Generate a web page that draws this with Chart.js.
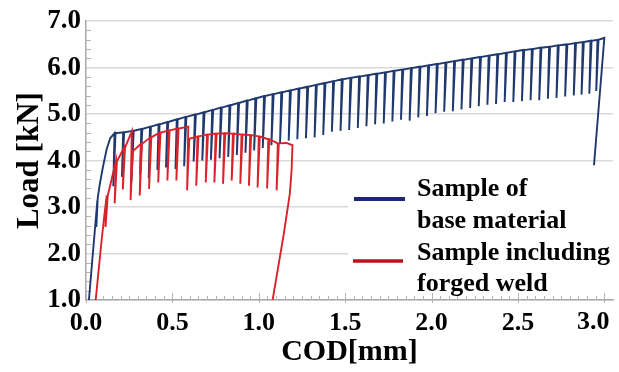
<!DOCTYPE html>
<html>
<head>
<meta charset="utf-8">
<title>Load vs COD</title>
<script src="https://cdn.jsdelivr.net/npm/chart.js@4.4.1/dist/chart.umd.min.js"></script>
<style>
  html, body { margin: 0; padding: 0; background: #fff; }
  #box { width: 619px; height: 372px; }
</style>
</head>
<body>
<div id="box"><canvas id="codChart" width="619" height="372"></canvas></div>
<script>
// ---- values (COD in mm, load in kN) ----
const xTickValues = [0, 0.5, 1.0, 1.5, 2.0, 2.5, 3.0];
const yTickValues = [1, 2, 3, 4, 5, 6, 7];

const baseLegend = ['Sample of', 'base material'];
const weldLegend = ['Sample including', 'forged weld'];

// sample of base material: first loading leg, unloading cycles, final unload
const baseStartX = [0.017, 0.035, 0.05, 0.066, 0.06, 0.068, 0.08, 0.10, 0.12, 0.14];
const baseStartY = [1.0, 1.8, 2.45, 3.15, 2.57, 3.2, 3.5, 3.9, 4.25, 4.48];
const basePeakX = [0.165, 0.215, 0.27, 0.32, 0.37, 0.42, 0.47, 0.525, 0.575, 0.63,
                   0.68, 0.73, 0.78, 0.83, 0.88, 0.93, 0.98, 1.03, 1.08, 1.13,
                   1.18, 1.23, 1.28, 1.33, 1.38, 1.43, 1.48, 1.53, 1.58, 1.63,
                   1.68, 1.73, 1.78, 1.83, 1.88, 1.93, 1.98, 2.03, 2.08, 2.13,
                   2.18, 2.23, 2.28, 2.33, 2.38, 2.43, 2.48, 2.53, 2.58, 2.63,
                   2.68, 2.73, 2.78, 2.83, 2.875, 2.92, 2.96];
const basePeakY = [4.59, 4.61, 4.64, 4.68, 4.73, 4.78, 4.83, 4.89, 4.94, 4.99,
                   5.04, 5.09, 5.14, 5.19, 5.24, 5.29, 5.34, 5.39, 5.43, 5.47,
                   5.51, 5.55, 5.59, 5.63, 5.67, 5.71, 5.75, 5.78, 5.81, 5.84,
                   5.87, 5.90, 5.93, 5.96, 5.99, 6.02, 6.05, 6.08, 6.11, 6.14,
                   6.17, 6.20, 6.23, 6.26, 6.29, 6.32, 6.35, 6.38, 6.40, 6.43,
                   6.45, 6.48, 6.50, 6.53, 6.55, 6.58, 6.60];
const baseLowY = [3.45, 3.65, 3.55, 3.70, 3.62, 3.80, 3.85, 3.82, 3.88, 3.98,
                  4.00, 4.02, 4.05, 4.08, 4.12, 4.17, 4.22, 4.27, 4.33, 4.38,
                  4.43, 4.46, 4.48, 4.50, 4.55, 4.62, 4.64, 4.66, 4.70, 4.74,
                  4.78, 4.80, 4.84, 4.88, 4.86, 4.93, 4.96, 5.02, 5.05, 5.06,
                  5.10, 5.13, 5.17, 5.20, 5.22, 5.26, 5.26, 5.28, 5.30, 5.30,
                  5.33, 5.35, 5.38, 5.40, 5.42, 5.44, 5.50];
const baseEndX = [3.0, 2.94];
const baseEndY = [6.64, 3.9];

// sample including forged weld
const weldStartX = [0.056, 0.072, 0.088, 0.104];
const weldStartY = [1.0, 1.6, 2.2, 2.75];
const weldPeakX = [0.12, 0.173, 0.22, 0.265, 0.318, 0.372, 0.425, 0.478, 0.53, 0.592,
                   0.645, 0.70, 0.75, 0.80, 0.85, 0.90, 0.95, 1.0, 1.055, 1.11];
const weldPeakY = [3.25, 3.98, 4.28, 4.63, 4.36, 4.50, 4.60, 4.65, 4.69, 4.73,
                   4.52, 4.56, 4.58, 4.59, 4.58, 4.56, 4.55, 4.52, 4.46, 4.37];
const weldLowY = [2.57, 3.08, 3.38, 3.15, 3.25, 3.39, 3.53, 3.57, 3.57, 3.36,
                  3.46, 3.53, 3.53, 3.50, 3.57, 3.50, 3.46, 3.42, 3.40, 3.36];
const weldBackY = [3.25, 3.98, 4.28, 4.20, 4.36, 4.50, 4.60, 4.65, 4.69, 4.47,
                   4.52, 4.56, 4.58, 4.59, 4.58, 4.56, 4.55, 4.52, 4.46, 4.37];
const weldEndX = [1.16, 1.195, 1.19, 1.18, 1.145, 1.08];
const weldEndY = [4.38, 4.33, 3.8, 3.3, 2.43, 1.0];

// turns the read values into one path: loading leg, then peak -> unload -> reload per cycle
function buildCurve(startX, startY, peakX, peakY, lowY, backY, endX, endY) {
    const pts = startX.map((x, i) => ({ x: x, y: startY[i] }));
    peakX.forEach((x, i) => {
        pts.push({ x: x, y: peakY[i] });
        pts.push({ x: x - 0.007, y: lowY[i] });
        pts.push({ x: x + 0.006, y: backY[i] });
    });
    endX.forEach((x, i) => pts.push({ x: x, y: endY[i] }));
    return pts;
}

const basePoints = buildCurve(baseStartX, baseStartY, basePeakX, basePeakY, baseLowY, basePeakY, baseEndX, baseEndY);
const weldPoints = buildCurve(weldStartX, weldStartY, weldPeakX, weldPeakY, weldLowY, weldBackY, weldEndX, weldEndY);

const serif = '"Liberation Serif", "Times New Roman", serif';
const lastX = xTickValues[xTickValues.length - 1];

// small inside ticks along both axes
const minorTicks = {
    id: 'minorTicks',
    beforeDatasetsDraw(chart) {
        const { ctx, chartArea, scales } = chart;
        ctx.save();
        ctx.strokeStyle = '#b4b4b4';
        ctx.lineWidth = 1;
        ctx.beginPath();
        for (let i = 0; i <= 60; i++) {
            const px = Math.round(scales.x.getPixelForValue(i * 0.05)) + 0.5;
            const len = i % 10 === 0 ? 7 : 4;
            ctx.moveTo(px, chartArea.bottom + (i % 10 === 0 ? 3 : 0));
            ctx.lineTo(px, chartArea.bottom - len);
        }
        for (let j = 1; j < 30; j++) {
            if (j % 5 === 0) continue;
            const py = Math.round(scales.y.getPixelForValue(1 + j * 0.2)) + 0.5;
            ctx.moveTo(chartArea.left, py);
            ctx.lineTo(chartArea.left + 5, py);
        }
        ctx.stroke();
        ctx.restore();
    }
};

// legend inside the plot (lower right) and the last x label, pulled in from the edge
const legendBox = {
    id: 'legendBox',
    afterDraw(chart) {
        const ctx = chart.ctx;
        const xs = chart.scales.x;
        ctx.save();
        ctx.fillStyle = '#fff';
        ctx.fillRect(348, 168, 271, 124);

        ctx.lineWidth = 4;
        ctx.strokeStyle = '#1e2678';
        ctx.beginPath(); ctx.moveTo(354, 199); ctx.lineTo(405, 199); ctx.stroke();
        ctx.strokeStyle = '#b5161c';
        ctx.lineWidth = 3.5;
        ctx.beginPath(); ctx.moveTo(353, 261); ctx.lineTo(403, 261); ctx.stroke();

        ctx.fillStyle = '#000';
        ctx.font = 'bold 26px ' + serif;
        ctx.textAlign = 'left';
        ctx.textBaseline = 'alphabetic';
        ctx.fillText(baseLegend[0], 417, 196);
        ctx.fillText(baseLegend[1], 417, 228);
        ctx.fillText(weldLegend[0], 417, 260);
        ctx.fillText(weldLegend[1], 417, 291);

        ctx.textAlign = 'center';
        ctx.textBaseline = 'top';
        ctx.fillText(lastX.toFixed(1), xs.getPixelForValue(lastX) - 11, chart.chartArea.bottom + 9);
        ctx.restore();
    }
};

const ctx = document.getElementById('codChart').getContext('2d');
new Chart(ctx, {
    type: 'scatter',
    data: {
        datasets: [
            {
                label: weldLegend.join(' '),
                data: weldPoints,
                showLine: true,
                borderColor: '#d9222a',
                borderWidth: 1.9,
                pointRadius: 0,
                tension: 0,
                order: 0
            },
            {
                label: baseLegend.join(' '),
                data: basePoints,
                showLine: true,
                borderColor: '#1f386e',
                borderWidth: 1.9,
                pointRadius: 0,
                tension: 0,
                order: 1
            }
        ]
    },
    options: {
        responsive: false,
        animation: false,
        devicePixelRatio: 1,
        layout: { padding: { top: 17, right: 6, left: 0, bottom: 0 } },
        plugins: {
            legend: { display: false },
            tooltip: { enabled: false }
        },
        scales: {
            x: {
                type: 'linear',
                min: 0,
                max: 3.05,
                afterBuildTicks: s => { s.ticks = xTickValues.map(v => ({ value: v })); },
                afterFit: s => { s.height = 72; s.paddingRight = 0; },
                grid: { drawOnChartArea: false, drawTicks: false },
                border: { color: '#a8a8a8', width: 1.5 },
                ticks: {
                    color: '#000',
                    padding: 8,
                    maxRotation: 0,
                    font: { family: serif, size: 26, weight: 'bold' },
                    callback: v => (v === lastX ? '' : v.toFixed(1))
                },
                title: {
                    display: true,
                    text: 'COD[mm]',
                    color: '#000',
                    font: { family: serif, size: 30, weight: 'bold' },
                    padding: { top: 0, bottom: 2 }
                }
            },
            y: {
                type: 'linear',
                min: 1,
                max: 7,
                afterBuildTicks: s => { s.ticks = yTickValues.map(v => ({ value: v })); },
                afterFit: s => { s.width = 86; },
                grid: { color: '#d9d9d9', lineWidth: 1.5, drawTicks: false },
                border: { color: '#a8a8a8', width: 1.5 },
                ticks: {
                    color: '#000',
                    padding: 5,
                    font: { family: serif, size: 27, weight: 'bold' },
                    callback: v => v.toFixed(1)
                },
                title: {
                    display: true,
                    text: 'Load [kN]',
                    color: '#000',
                    font: { family: serif, size: 31, weight: 'bold' },
                    padding: { top: 11, bottom: 0 }
                }
            }
        }
    },
    plugins: [minorTicks, legendBox]
});
</script>
</body>
</html>
